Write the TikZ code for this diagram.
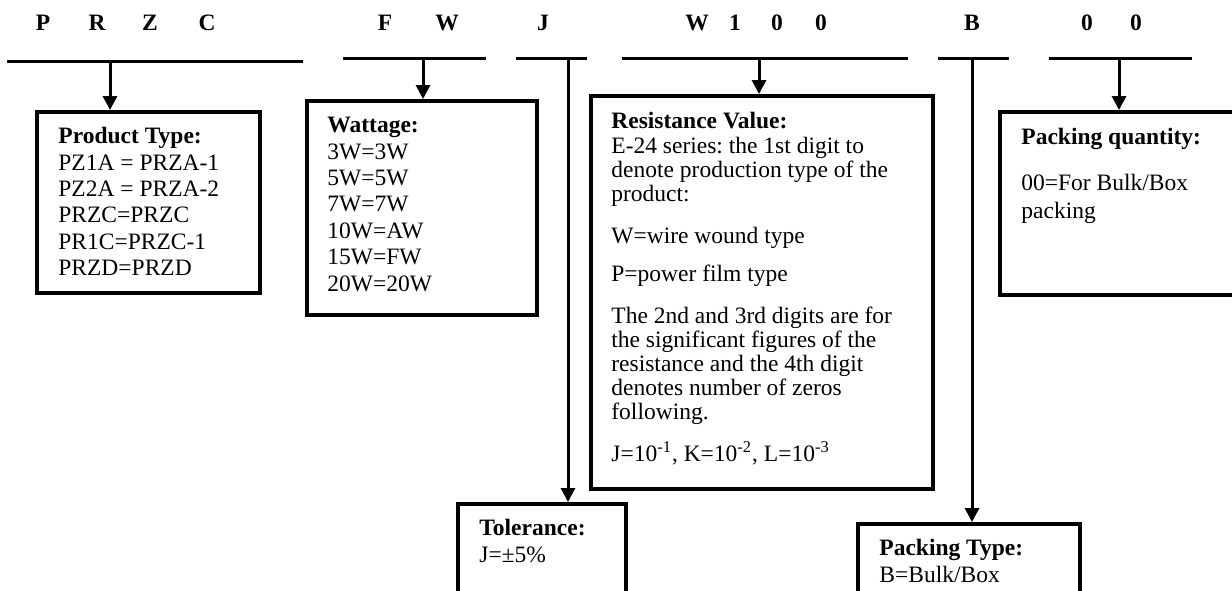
\documentclass[tikz,border=0pt]{standalone}
\usepackage{fontspec}
\setmainfont{Liberation Serif}
\usetikzlibrary{arrows.meta}
\frenchspacing
\tikzset{
  boxnode/.style={draw, line width=1.75pt, inner sep=0pt, anchor=north west},
  txt/.style={anchor=north west, inner sep=0pt, align=left, font=\fontsize{11.75}{13.2}\selectfont},
  code/.style={font=\fontsize{11.75}{13}\selectfont\bfseries, inner sep=0pt},
  bar/.style={line width=1.5pt},
  arr/.style={line width=1.5pt, -{Triangle[length=7pt,width=7pt]}},
  plainline/.style={line width=1.5pt}
}
\begin{document}
\begin{tikzpicture}[x=0.5pt,y=-0.5pt]
\useasboundingbox (0,0) rectangle (1232,590);
\clip (0,0) rectangle (1232,590);
% code letters
\node[code] (cP) at (43,23) {P};
\node[code] (cR) at (97,23) {R};
\node[code] (cZ) at (150,23) {Z};
\node[code] (cC) at (207,23) {C};
\node[code] (cF) at (385,23) {F};
\node[code] (cW) at (447,23) {W};
\node[code] (cJ) at (543,23) {J};
\node[code] (cW2) at (697,23) {W};
\node[code] (c1) at (735,23) {1};
\node[code] (c0a) at (777,23) {0};
\node[code] (c0b) at (821,23) {0};
\node[code] (cB) at (972,23) {B};
\node[code] (c0c) at (1087,23) {0};
\node[code] (c0d) at (1136,23) {0};
% bars
\coordinate (b1s) at (7,61);   \coordinate (b1e) at (303,61);
\coordinate (b2s) at (343,58); \coordinate (b2e) at (486,58);
\coordinate (b3s) at (516,58); \coordinate (b3e) at (587,58);
\coordinate (b4s) at (622,58); \coordinate (b4e) at (908,58);
\coordinate (b5s) at (938,58); \coordinate (b5e) at (1009,58);
\coordinate (b6s) at (1049,58);\coordinate (b6e) at (1192,58);
\draw[bar] (b1s) -- (b1e);
\draw[bar] (b2s) -- (b2e);
\draw[bar] (b3s) -- (b3e);
\draw[bar] (b4s) -- (b4e);
\draw[bar] (b5s) -- (b5e);
\draw[bar] (b6s) -- (b6e);
% boxes
\node[boxnode, minimum width=111.5pt, minimum height=90.5pt] (prod) at (35,110) {};
\node[boxnode, minimum width=115pt, minimum height=107pt] (watt) at (305,99) {};
\node[boxnode, minimum width=171pt, minimum height=196.5pt] (res) at (589,94) {};
\node[boxnode, minimum width=125pt, minimum height=91.5pt] (pq) at (998,110) {};
\node[boxnode, minimum width=84pt, minimum height=60pt] (tol) at (456,502) {};
\node[boxnode, minimum width=111pt, minimum height=50pt] (pt) at (856,522) {};
% texts
\node[txt] (prodtxt) at (58,127) {\textbf{Product Type:}\\PZ1A = PRZA-1\\PZ2A = PRZA-2\\PRZC=PRZC\\PR1C=PRZC-1\\PRZD=PRZD};
\node[txt] (watttxt) at (327,117) {\textbf{Wattage:}\\3W=3W\\5W=5W\\7W=7W\\10W=AW\\15W=FW\\20W=20W};
\node[txt, font=\fontsize{11.75}{12}\selectfont] (restxt) at (611,112) {\textbf{Resistance Value:}\\[0.5pt]E-24 series: the 1st digit to\\denote production type of the\\product:\\[9pt]W=wire wound type\\[7pt]P=power film type\\[9pt]The 2nd and 3rd digits are for\\the significant figures of the\\resistance and the 4th digit\\denotes number of zeros\\following.\\[7.5pt]J=10\textsuperscript{-1}, K=10\textsuperscript{-2}, L=10\textsuperscript{-3}};
\node[txt, font=\fontsize{11.75}{14}\selectfont] (pqtxt) at (1021,128) {\textbf{Packing quantity:}\\[9pt]00=For Bulk/Box\\packing};
\node[txt] (toltxt) at (479,519) {\textbf{Tolerance:}\\J=±5\%};
\node[txt] (pttxt) at (879,539) {\textbf{Packing Type:}\\B=Bulk/Box};
% connectors
\coordinate (a1) at (110,61);
\coordinate (a2) at (423,58);
\coordinate (a3) at (568,58);
\coordinate (a4) at (759,58);
\coordinate (a5) at (972,58);
\coordinate (a6) at (1119,58);
\draw[arr] (a1) -- (a1 |- prod.north);
\draw[arr] (a2) -- (a2 |- watt.north);
\draw[arr] (a3) -- (a3 |- tol.north);
\draw[arr] (a4) -- (a4 |- res.north);
\draw[arr] (a5) -- (a5 |- pt.north);
\draw[arr] (a6) -- (a6 |- pq.north);
\end{tikzpicture}
\end{document}
